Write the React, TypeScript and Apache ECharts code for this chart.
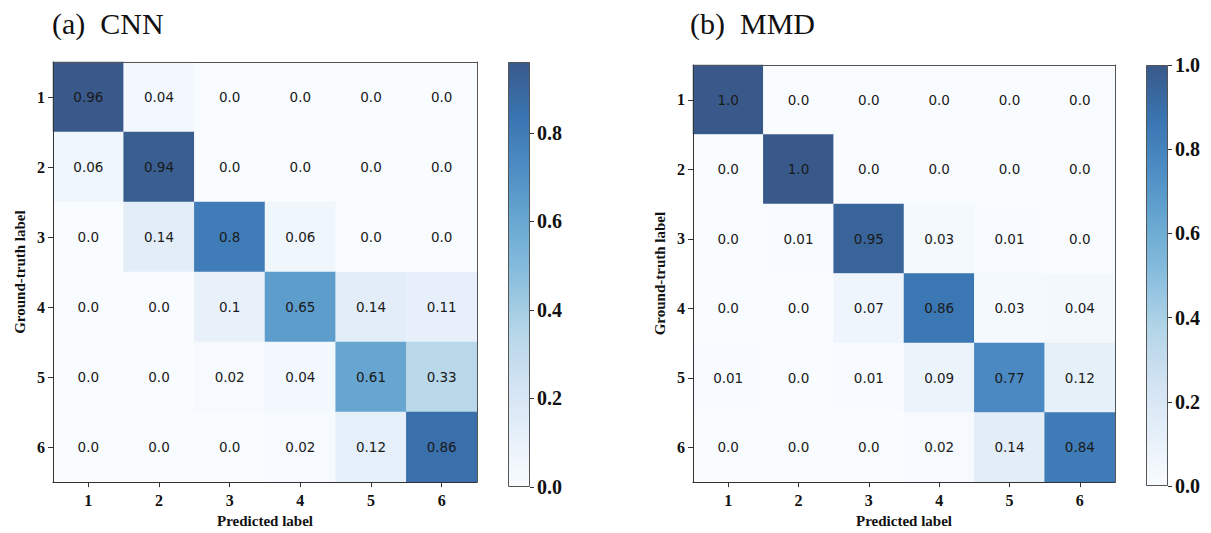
import React, { useEffect, useRef } from "react";
import * as echarts from "echarts";

const categories = ["1", "2", "3", "4", "5", "6"];

const cnnMatrix = [
  [0.96, 0.04, 0.0, 0.0, 0.0, 0.0],
  [0.06, 0.94, 0.0, 0.0, 0.0, 0.0],
  [0.0, 0.14, 0.8, 0.06, 0.0, 0.0],
  [0.0, 0.0, 0.1, 0.65, 0.14, 0.11],
  [0.0, 0.0, 0.02, 0.04, 0.61, 0.33],
  [0.0, 0.0, 0.0, 0.02, 0.12, 0.86],
];

const mmdMatrix = [
  [1.0, 0.0, 0.0, 0.0, 0.0, 0.0],
  [0.0, 1.0, 0.0, 0.0, 0.0, 0.0],
  [0.0, 0.01, 0.95, 0.03, 0.01, 0.0],
  [0.0, 0.0, 0.07, 0.86, 0.03, 0.04],
  [0.01, 0.0, 0.01, 0.09, 0.77, 0.12],
  [0.0, 0.0, 0.0, 0.02, 0.14, 0.84],
];

const cnnColorbarTicks = [0, 0.2, 0.4, 0.6, 0.8];
const mmdColorbarTicks = [0, 0.2, 0.4, 0.6, 0.8, 1.0];

const titles = ["(a)  CNN", "(b)  MMD"];

// matplotlib "Blues" blended at alpha 0.8 over white
const blues = [
  "#f9fcff",
  "#e5eff9",
  "#d1e2f2",
  "#b1d5e7",
  "#89bede",
  "#68a8d1",
  "#4d8dc4",
  "#3974b0",
  "#39598a",
];

const toCells = (m: number[][]) => {
  const out: number[][] = [];
  m.forEach((row, r) => row.forEach((v, c) => out.push([c, r, v])));
  return out;
};
const maxOf = (m: number[][]) => Math.max(...m.map((r) => Math.max(...r)));
const fmt = (v: number) => {
  const s = String(v);
  return s.includes(".") ? s : v.toFixed(1);
};

const serif = "Liberation Serif";

export default function App() {
  const ref = useRef<HTMLDivElement>(null);
  useEffect(() => {
    if (!ref.current) return;
    const chart = echarts.init(ref.current, undefined, { renderer: "svg" });
    const cnnMax = maxOf(cnnMatrix);
    const mmdMax = maxOf(mmdMatrix);

    const grids = [
      { left: 53, top: 62, width: 424, height: 425 },
      { left: 508, top: 62, width: 22, height: 425 },
      { left: 693, top: 65, width: 422, height: 421 },
      { left: 1146, top: 65, width: 22, height: 421 },
    ];

    const spine = { show: true, lineStyle: { color: "#333", width: 1 } };
    const tickLabel = {
      fontFamily: serif,
      fontWeight: "bold" as const,
      fontSize: 16,
      color: "#111",
    };
    const nameStyle = {
      fontFamily: serif,
      fontWeight: "bold" as const,
      fontSize: 15,
      color: "#111",
    };

    const heatX = (gi: number) => [
      {
        type: "category",
        gridIndex: gi,
        data: categories,
        position: "bottom",
        z: 10,
        axisLine: spine,
        axisTick: { show: true, alignWithLabel: true, length: 5, lineStyle: { color: "#333" } },
        axisLabel: { ...tickLabel, margin: 10 },
        splitLine: { show: false },
        name: "Predicted label",
        nameLocation: "middle",
        nameGap: 30,
        nameTextStyle: nameStyle,
      },
      {
        type: "category",
        gridIndex: gi,
        data: categories,
        position: "top",
        z: 10,
        axisLine: { show: true, lineStyle: { color: "#555", width: 1 } },
        axisTick: { show: false },
        axisLabel: { show: false },
      },
    ];
    const heatY = (gi: number) => [
      {
        type: "category",
        gridIndex: gi,
        data: categories,
        inverse: true,
        position: "left",
        z: 10,
        axisLine: spine,
        axisTick: { show: true, alignWithLabel: true, length: 5, lineStyle: { color: "#333" } },
        axisLabel: { ...tickLabel, margin: 8 },
        name: "Ground-truth label",
        nameLocation: "middle",
        nameGap: 26,
        nameRotate: 90,
        nameTextStyle: nameStyle,
      },
      {
        type: "category",
        gridIndex: gi,
        data: categories,
        inverse: true,
        position: "right",
        z: 10,
        axisLine: { show: true, lineStyle: { color: "#555", width: 1 } },
        axisTick: { show: false },
        axisLabel: { show: false },
      },
    ];
    const cbX = (gi: number) => ({
      type: "category",
      gridIndex: gi,
      data: [""],
      show: false,
    });
    const cbY = (gi: number, max: number, ticks: number[]) => ({
      type: "value",
      gridIndex: gi,
      min: 0,
      max,
      position: "right",
      axisLine: { show: false },
      splitLine: { show: false },
      axisTick: {
        show: true,
        length: 4,
        customValues: ticks,
        lineStyle: { color: "#333" },
      },
      axisLabel: {
        customValues: ticks,
        formatter: (v: number) => v.toFixed(1),
        fontFamily: serif,
        fontWeight: "bold",
        fontSize: 20,
        color: "#111",
        margin: 7,
      },
    });

    const gradient = new echarts.graphic.LinearGradient(
      0,
      1,
      0,
      0,
      blues.map((c, i) => ({ offset: i / (blues.length - 1), color: c }))
    );

    const cellLabel = {
      show: true,
      formatter: (p: any) => fmt(p.value[2]),
      fontFamily: "DejaVu Sans",
      fontSize: 13.5,
      color: "#1a1a1a",
    };

    chart.setOption({
      animation: false,
      backgroundColor: "#ffffff",
      title: [
        {
          text: titles[0],
          left: 52,
          top: 8,
          padding: 0,
          textStyle: { fontFamily: serif, fontSize: 30, fontWeight: "normal", color: "#111" },
        },
        {
          text: titles[1],
          left: 690,
          top: 8,
          padding: 0,
          textStyle: { fontFamily: serif, fontSize: 30, fontWeight: "normal", color: "#111" },
        },
      ],
      grid: grids,
      xAxis: [...heatX(0), cbX(1), ...heatX(2), cbX(3)],
      yAxis: [
        ...heatY(0),
        cbY(1, cnnMax, cnnColorbarTicks),
        ...heatY(2),
        cbY(3, mmdMax, mmdColorbarTicks),
      ],
      visualMap: [
        {
          type: "continuous",
          show: false,
          min: 0,
          max: cnnMax,
          dimension: 2,
          seriesIndex: 0,
          inRange: { color: blues },
        },
        {
          type: "continuous",
          show: false,
          min: 0,
          max: mmdMax,
          dimension: 2,
          seriesIndex: 2,
          inRange: { color: blues },
        },
      ],
      series: [
        {
          type: "heatmap",
          xAxisIndex: 0,
          yAxisIndex: 0,
          data: toCells(cnnMatrix),
          label: cellLabel,
          emphasis: { disabled: true },
        },
        {
          type: "bar",
          xAxisIndex: 2,
          yAxisIndex: 2,
          data: [cnnMax],
          barWidth: "100%",
          itemStyle: { color: gradient, borderColor: "#555", borderWidth: 1 },
          silent: true,
        },
        {
          type: "heatmap",
          xAxisIndex: 3,
          yAxisIndex: 3,
          data: toCells(mmdMatrix),
          label: cellLabel,
          emphasis: { disabled: true },
        },
        {
          type: "bar",
          xAxisIndex: 5,
          yAxisIndex: 5,
          data: [mmdMax],
          barWidth: "100%",
          itemStyle: { color: gradient, borderColor: "#555", borderWidth: 1 },
          silent: true,
        },
      ],
    });
    return () => chart.dispose();
  }, []);
  return (
    <div
      ref={ref}
      style={{ position: "absolute", left: 0, top: 0, width: 1211, height: 533 }}
    />
  );
}
